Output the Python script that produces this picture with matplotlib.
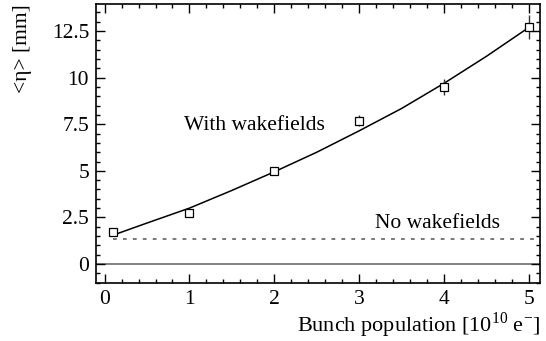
import numpy as np
import matplotlib.pyplot as plt
from matplotlib.ticker import MultipleLocator

plt.rcParams['font.family'] = ['Liberation Serif', 'DejaVu Serif']
plt.rcParams['mathtext.fontset'] = 'custom'
plt.rcParams['mathtext.rm'] = 'Liberation Serif'

# measured points
bunch = [0.1, 1, 2, 3, 4, 5]
eta = [1.7, 2.75, 5.0, 7.7, 9.5, 12.7]
eta_err = [0.1, 0.1, 0.15, 0.3, 0.45, 0.65]

# fitted curve
fit_x = [0.1, 0.5, 1, 1.5, 2, 2.5, 3, 3.5, 4, 4.5, 5]
fit_y = [1.55, 2.2, 3.0, 3.95, 4.95, 6.0, 7.15, 8.35, 9.7, 11.15, 12.7]

# level without wakefields
no_wake = 1.35

fig = plt.figure(figsize=(5.46, 3.41), dpi=100)
ax = fig.add_axes([0.176, 0.170, 0.813, 0.818])

ax.axhline(0, color='#777777', lw=1.3, zorder=1)
ax.plot([0.1, 5.2], [no_wake, no_wake], color='#555555', lw=1.1, linestyle=(0, (2.5, 4)))
ax.plot(fit_x, fit_y, color='black', lw=1.1)
ax.errorbar(bunch, eta, yerr=eta_err, fmt='s', mfc='white', mec='black', ms=6,
            mew=0.9, ecolor='#333333', elinewidth=1.0, capsize=0, zorder=3)

ax.text(0.93, 7.45, 'With wakefields', fontsize=15.5, va='center', ha='left')
ax.text(3.19, 2.2, 'No wakefields', fontsize=15.5, va='center', ha='left')

ax.set_xlim(-0.1, 5.13)
ax.set_ylim(-1.02, 13.95)
ax.xaxis.set_major_locator(MultipleLocator(1))
ax.xaxis.set_minor_locator(MultipleLocator(0.2))
ax.yaxis.set_minor_locator(MultipleLocator(0.5))
ax.set_yticks([0, 2.5, 5, 7.5, 10, 12.5])
ax.set_yticklabels(['0', '2.5', '5', '7.5', '10', '12.5'])
ax.tick_params(which='both', direction='in', top=True, right=True, labelsize=15.5, width=1)
ax.tick_params(which='major', length=6.5, pad=5)
ax.tick_params(which='minor', length=3)
for s in ax.spines.values():
    s.set_linewidth(1.2)

ax.set_ylabel('<η> [mm]', fontsize=15.5, loc='top', labelpad=14)
ax.set_xlabel(r'Bunch population [10$^{10}$ e$^{-}$]', fontsize=16, loc='right', labelpad=1)

fig.savefig('out.png', dpi=100)
